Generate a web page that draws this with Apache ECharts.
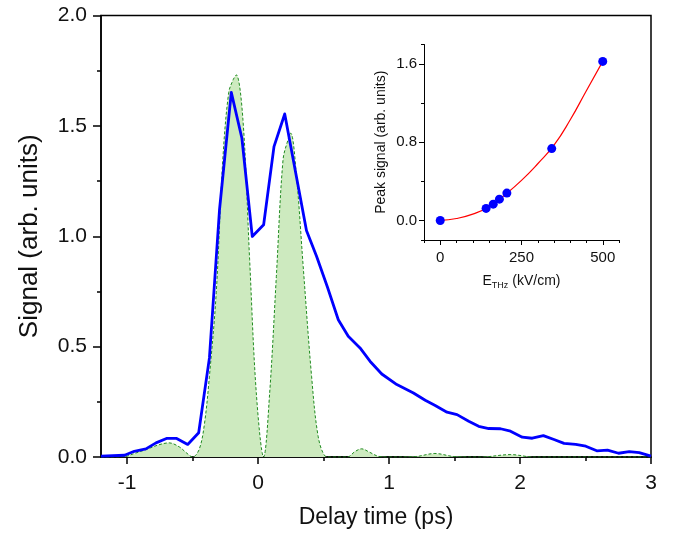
<!DOCTYPE html>
<html>
<head>
<meta charset="utf-8">
<script src="https://cdn.jsdelivr.net/npm/echarts@6/dist/echarts.min.js"></script>
<style>
html,body{margin:0;padding:0;background:#fff;}
#chart{width:675px;height:535px;}
</style>
</head>
<body>
<div id="chart"></div>
<script>
// ---- Main panel: measured signal (blue) ----
const signalTime = [-1.2,-1.02,-0.946,-0.857,-0.78,-0.70,-0.622,-0.538,-0.454,-0.372,-0.295,-0.205,-0.124,-0.045,0.042,0.121,0.203,0.369,0.446,0.529,0.612,0.688,0.778,0.854,0.944,1.059,1.186,1.276,1.352,1.442,1.519,1.608,1.684,1.761,1.851,1.927,2.017,2.093,2.178,2.259,2.336,2.425,2.502,2.586,2.668,2.752,2.834,2.910,3.0];
const signalValue = [0.004,0.008,0.026,0.037,0.064,0.084,0.084,0.057,0.11,0.449,1.12,1.652,1.444,0.999,1.052,1.406,1.554,1.026,0.909,0.77,0.622,0.547,0.494,0.434,0.376,0.328,0.290,0.257,0.233,0.203,0.192,0.162,0.139,0.129,0.128,0.117,0.090,0.085,0.097,0.079,0.062,0.057,0.049,0.028,0.031,0.017,0.024,0.020,0.004];

// ---- Main panel: THz field envelope (green filled, dashed) ----
const fieldTime = [-1.2,-1.02,-0.95,-0.85,-0.76,-0.68,-0.6,-0.55,-0.5,-0.45,-0.41,-0.372,-0.32,-0.27,-0.225,-0.19,-0.167,-0.116,-0.065,-0.014,0.042,0.088,0.139,0.19,0.228,0.249,0.293,0.344,0.408,0.458,0.51,0.55,0.68,0.74,0.79,0.85,0.92,1.0,1.2,1.35,1.5,1.7,1.93,2.1,3.0];
const fieldValue = [0,0.002,0.015,0.035,0.055,0.064,0.045,0.02,0.0,0.035,0.15,0.366,0.744,1.346,1.65,1.71,1.731,1.527,0.894,0.29,0,0.29,0.818,1.346,1.437,1.467,1.271,0.863,0.366,0.094,0.005,0,0,0.025,0.037,0.022,0.003,0,0.002,0.016,0.002,0,0.011,0,0];

// ---- Inset: peak signal vs field ----
const insetField = [0,141,163,182,205,343,500];
const insetPeak = [0,0.123,0.167,0.218,0.28,0.735,1.627];
const fitField = [0,50,100,150,200,250,300,350,400,450,500];
const fitPeak = [0,0.02,0.065,0.14,0.265,0.41,0.58,0.77,1.03,1.33,1.627];

// ---- Tick values ----
const mainXMajor = [-1,0,1,2,3];
const mainXMinor = [-0.5,0.5,1.5,2.5];
const mainYMajor = [0,0.5,1,1.5,2];
const mainYMinor = [0.25,0.75,1.25,1.75];
const insetXMajor = [0,250,500];
const insetXMinor = [-50,50,100,150,200,300,350,400,450,550];
const insetYMajor = [0,0.8,1.6];
const insetYMinor = [-0.2,0.4,1.2,1.8];

const zip = (a,b) => a.map((v,i)=>[v,b[i]]);
const FONT = 'Liberation Sans, Arial, sans-serif';
const black = '#000';
const txt = '#111';

const chart = echarts.init(document.getElementById('chart'), null, {renderer:'canvas'});

function axisBase(extra){
  const base = {
    type:'value',
    splitLine:{show:false},
    minorTick:{show:false},
  };
  const o = Object.assign(base, extra);
  o.axisLine = Object.assign({show:true,onZero:false,lineStyle:{color:black,width:1.5}}, extra.axisLine||{});
  o.axisLine.onZero = false;
  return o;
}

const option = {
  animation:false,
  backgroundColor:'#fff',
  grid:[
    {left:101,right:24,top:15.5,bottom:78,show:true,borderColor:black,borderWidth:1.5,backgroundColor:'transparent'},
    {left:424,top:44.5,width:195,height:195.5,show:false}
  ],
  xAxis:[
    axisBase({gridIndex:0,min:-1.2,max:3,position:'bottom',
      name:'Delay time (ps)',nameLocation:'middle',nameGap:49,
      nameTextStyle:{fontFamily:FONT,fontSize:23,color:txt},
      axisTick:{show:true,length:7,lineStyle:{color:black,width:1.5},customValues:mainXMajor},
      axisLabel:{show:true,fontFamily:FONT,fontSize:21,color:txt,margin:16,customValues:mainXMajor,formatter:v=>String(v)}
    }),
    axisBase({gridIndex:0,min:-1.2,max:3,position:'bottom',offset:0,
      axisLine:{show:false},
      axisTick:{show:true,length:4,lineStyle:{color:black,width:1.5},customValues:mainXMinor},
      axisLabel:{show:false}
    }),
    axisBase({gridIndex:1,min:-50,max:550,position:'bottom',
      name:'{a|E}{b|THz}{a| (kV/cm)}',nameLocation:'middle',nameGap:32,
      nameTextStyle:{fontFamily:FONT,fontSize:14,color:txt,
        rich:{a:{fontFamily:FONT,fontSize:14,color:txt},b:{fontFamily:FONT,fontSize:9,color:txt,padding:[9,0,0,0]}}},
      axisLine:{show:true,lineStyle:{color:black,width:1}},
      axisTick:{show:true,length:5,lineStyle:{color:black,width:1},customValues:insetXMajor},
      axisLabel:{show:true,fontFamily:FONT,fontSize:15,color:txt,margin:10,customValues:insetXMajor,formatter:v=>String(v)}
    }),
    axisBase({gridIndex:1,min:-50,max:550,position:'bottom',offset:0,
      axisLine:{show:false},
      axisTick:{show:true,length:3,lineStyle:{color:black,width:1},customValues:insetXMinor},
      axisLabel:{show:false}
    })
  ],
  yAxis:[
    axisBase({gridIndex:0,min:0,max:2,position:'left',
      name:'Signal (arb. units)',nameLocation:'middle',nameGap:58,
      nameTextStyle:{fontFamily:FONT,fontSize:26,color:txt},
      axisTick:{show:true,length:8,lineStyle:{color:black,width:1.5},customValues:mainYMajor},
      axisLabel:{show:true,fontFamily:FONT,fontSize:21,color:txt,margin:14,customValues:mainYMajor,formatter:v=>v.toFixed(1)}
    }),
    axisBase({gridIndex:0,min:0,max:2,position:'left',offset:0,
      axisLine:{show:false},
      axisTick:{show:true,length:4,lineStyle:{color:black,width:1.5},customValues:mainYMinor},
      axisLabel:{show:false}
    }),
    axisBase({gridIndex:1,min:-0.2,max:1.8,position:'left',
      name:'Peak signal (arb. units)',nameLocation:'middle',nameGap:36,
      nameTextStyle:{fontFamily:FONT,fontSize:14,color:txt},
      axisLine:{show:true,lineStyle:{color:black,width:1}},
      axisTick:{show:true,length:5,lineStyle:{color:black,width:1},customValues:insetYMajor},
      axisLabel:{show:true,fontFamily:FONT,fontSize:15,color:txt,margin:7,customValues:insetYMajor,formatter:v=>v.toFixed(1)}
    }),
    axisBase({gridIndex:1,min:-0.2,max:1.8,position:'left',offset:0,
      axisLine:{show:false},
      axisTick:{show:true,length:3,lineStyle:{color:black,width:1},customValues:insetYMinor},
      axisLabel:{show:false}
    })
  ],
  series:[
    {type:'line',xAxisIndex:0,yAxisIndex:0,data:zip(fieldTime,fieldValue),
     smooth:0.35,symbol:'none',clip:true,
     lineStyle:{color:'#1f8a1f',width:1,type:[3,2]},
     areaStyle:{color:'#cdeabf',opacity:1},z:2},
    {type:'line',xAxisIndex:0,yAxisIndex:0,data:zip(signalTime,signalValue),
     smooth:false,symbol:'none',clip:true,
     lineStyle:{color:'#0000ff',width:2.8,join:'round'},z:3},
    {type:'line',xAxisIndex:2,yAxisIndex:2,data:zip(fitField,fitPeak),
     smooth:true,symbol:'none',
     lineStyle:{color:'#ff0000',width:1.2},z:4},
    {type:'scatter',xAxisIndex:2,yAxisIndex:2,data:zip(insetField,insetPeak),
     symbol:'circle',symbolSize:9,itemStyle:{color:'#0000ff',opacity:1},z:5}
  ]
};
chart.setOption(option);
</script>
</body>
</html>
